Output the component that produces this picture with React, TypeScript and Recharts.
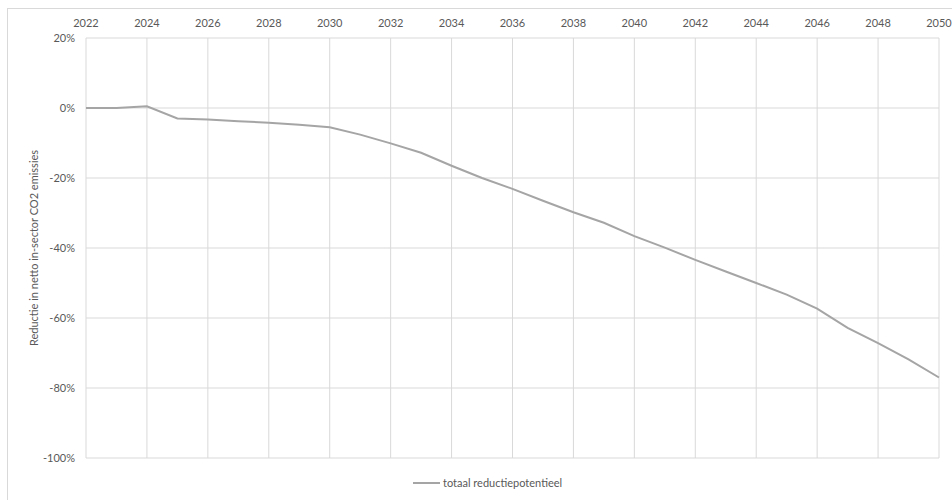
import { CartesianGrid, Line, LineChart, XAxis, YAxis } from 'recharts'

const years = [
  2022, 2023, 2024, 2025, 2026, 2027, 2028, 2029, 2030, 2031, 2032, 2033, 2034, 2035,
  2036, 2037, 2038, 2039, 2040, 2041, 2042, 2043, 2044, 2045, 2046, 2047, 2048, 2049, 2050,
]

const reductie = [
  0, 0, 0.5, -3.0, -3.3, -3.8, -4.2, -4.8, -5.5, -7.6, -10.1, -12.8, -16.5, -20.0,
  -23.1, -26.5, -29.8, -32.8, -36.6, -39.9, -43.4, -46.7, -50.0, -53.3, -57.3, -62.8, -67.2,
  -71.8, -77.0,
]

const xTicks = [2022, 2024, 2026, 2028, 2030, 2032, 2034, 2036, 2038, 2040, 2042, 2044, 2046, 2048, 2050]
const yTicks = [-100, -80, -60, -40, -20, 0, 20]

const data = years.map((year, i) => ({ year, value: reductie[i] }))

const font = 'Lato, "Open Sans", sans-serif'
const tickStyle = { fontSize: 11, fill: '#595959', fontFamily: font }

export default function App() {
  return (
    <div
      style={{
        position: 'absolute',
        left: 0,
        top: 0,
        width: 952,
        height: 500,
        overflow: 'hidden',
        background: '#fff',
        fontFamily: font,
      }}
    >
      <div
        style={{
          position: 'absolute',
          left: 7,
          top: 8,
          width: 980,
          height: 520,
          border: '1px solid #d9d9d9',
        }}
      />
      <div style={{ position: 'absolute', left: 0, top: 0 }}>
        <LineChart
          width={952}
          height={500}
          data={data}
          margin={{ top: 8, right: 13, bottom: 42, left: 36 }}
        >
          <CartesianGrid stroke="#d9d9d9" strokeWidth={1} />
          <XAxis
            dataKey="year"
            type="number"
            orientation="top"
            domain={[2022, 2050]}
            ticks={xTicks}
            height={30}
            tickLine={false}
            axisLine={false}
            tickSize={0}
            tickMargin={11}
            tick={tickStyle}
            interval={0}
          />
          <YAxis
            type="number"
            domain={[-100, 20]}
            ticks={yTicks}
            width={50}
            tickLine={false}
            axisLine={false}
            tickSize={0}
            tickMargin={11}
            tick={tickStyle}
            tickFormatter={(v) => `${v}%`}
            interval={0}
          />
          <Line
            dataKey="value"
            type="linear"
            stroke="#a5a5a5"
            strokeWidth={2}
            dot={false}
            isAnimationActive={false}
          />
        </LineChart>
      </div>
      <div
        style={{
          position: 'absolute',
          left: 33,
          top: 248,
          transform: 'translate(-50%, -50%) rotate(-90deg)',
          whiteSpace: 'nowrap',
          fontSize: 11,
          color: '#595959',
        }}
      >
        Reductie in netto in-sector CO2 emissies
      </div>
      <div
        style={{
          position: 'absolute',
          left: 413,
          top: 476,
          display: 'flex',
          alignItems: 'center',
          fontSize: 11,
          color: '#595959',
          whiteSpace: 'nowrap',
        }}
      >
        <span style={{ display: 'inline-block', width: 27, height: 2, background: '#a5a5a5', marginRight: 3 }} />
        totaal reductiepotentieel
      </div>
    </div>
  )
}
